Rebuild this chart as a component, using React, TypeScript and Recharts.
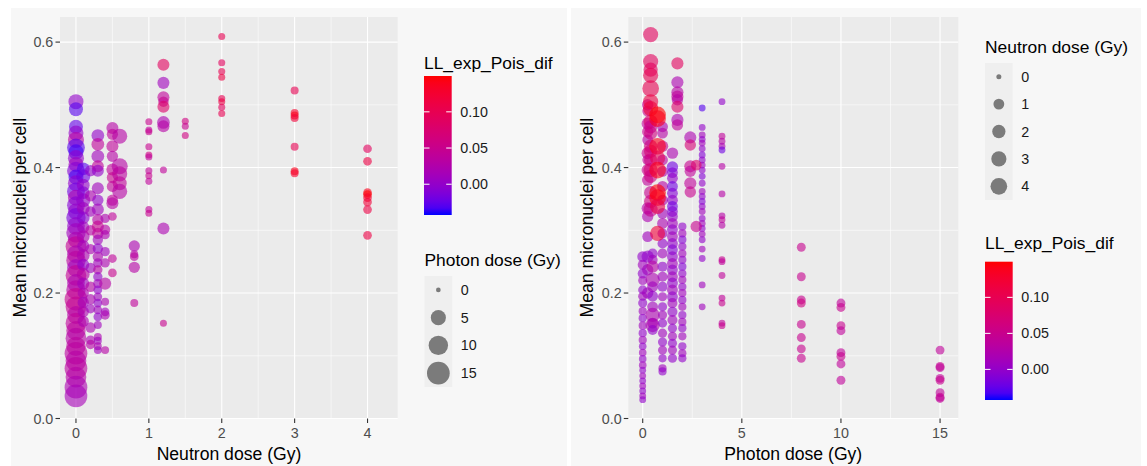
import { ScatterChart, Scatter, XAxis, YAxis, CartesianGrid } from 'recharts'

const FONT = '"Liberation Sans", Arial, Helvetica, sans-serif'

// colour scale LL_exp_Pois_dif (limits)
const llLimits = [-0.0425, 0.1495]
const llBreaks = [0, 0.05, 0.1]

// size legends
const photonBreaks = [0, 5, 10, 15]
const neutronBreaks = [0, 1, 2, 3, 4]

// axes
const meanTicks = [0, 0.2, 0.4, 0.6]
const meanMinor = [0.1, 0.3, 0.5]
const neutronTicks = [0, 1, 2, 3, 4]
const neutronMinor = [0.5, 1.5, 2.5, 3.5]
const photonTicks = [0, 5, 10, 15]
const photonMinor = [2.5, 7.5, 12.5]

// ---- left panel: x = neutron dose, size = photon dose
// rows: [mean micronuclei per cell, photon dose (Gy), LL_exp_Pois_dif]
const n0 = [
  [0.505, 5, 0.0], [0.493, 4, -0.03], [0.465, 4, -0.025], [0.455, 5, 0.0], [0.444, 6, 0.03],
  [0.432, 8, -0.03], [0.425, 5, -0.035], [0.415, 6, 0.0], [0.405, 5, 0.01], [0.395, 8, -0.01],
  [0.385, 5, -0.035], [0.375, 6, 0.0], [0.362, 8, -0.02], [0.352, 6, 0.02], [0.34, 8, -0.01],
  [0.33, 6, 0.0], [0.32, 10, -0.015], [0.307, 8, 0.0], [0.296, 10, 0.01], [0.285, 6, 0.02],
  [0.274, 12, 0.045], [0.262, 8, 0.02], [0.252, 10, 0.035], [0.24, 8, 0.01], [0.228, 12, 0.045],
  [0.216, 8, 0.02], [0.205, 10, 0.03], [0.19, 15, 0.05], [0.178, 12, 0.045], [0.165, 8, 0.03],
  [0.152, 12, 0.04], [0.14, 10, 0.035], [0.128, 12, 0.03], [0.115, 10, 0.035], [0.104, 15, 0.035],
  [0.092, 12, 0.03], [0.08, 15, 0.035], [0.066, 12, 0.03], [0.05, 15, 0.02], [0.036, 15, 0.015],
]
const n01 = [
  [0.398, 3, -0.03], [0.386, 4, -0.02], [0.372, 3, 0.0], [0.36, 3, -0.01], [0.348, 4, 0.0],
  [0.335, 3, 0.01], [0.32, 3, -0.005], [0.305, 2.5, 0.01], [0.29, 3, 0.02], [0.275, 2.5, 0.01],
  [0.26, 3, 0.02], [0.245, 2.5, 0.0], [0.23, 3, 0.03], [0.215, 2.5, 0.01], [0.2, 2, 0.02],
  [0.185, 2, 0.01], [0.17, 2, 0.02], [0.155, 2, 0.02],
]
const n02 = [
  [0.395, 2, 0.0], [0.355, 2, 0.02], [0.33, 1.5, 0.01], [0.3, 1.5, 0.03], [0.27, 1.5, 0.02],
  [0.24, 1.5, 0.01], [0.21, 1.5, 0.03], [0.19, 1.5, 0.02], [0.175, 1, 0.01], [0.145, 1.5, 0.02],
  [0.125, 1, 0.02], [0.118, 1, 0.03],
]
const n03 = [
  [0.451, 3, 0.0], [0.437, 3, 0.04], [0.418, 3, 0.01], [0.402, 2.5, 0.04], [0.395, 2.5, 0.0],
  [0.367, 2.5, 0.01], [0.348, 2, 0.0], [0.333, 2.5, 0.01], [0.317, 2, 0.03], [0.306, 2.5, 0.05],
  [0.295, 2, 0.04], [0.285, 1.5, 0.01], [0.271, 1.5, 0.0], [0.258, 1.5, 0.02], [0.248, 1, 0.01],
  [0.237, 1, 0.03], [0.226, 1, 0.0], [0.215, 1, 0.01], [0.205, 0.75, 0.0], [0.194, 0.75, 0.01],
  [0.184, 0.75, 0.0], [0.173, 0.75, 0.01], [0.162, 0.75, 0.0], [0.149, 0.5, 0.01], [0.13, 0.5, 0.02],
  [0.124, 0.5, 0.01], [0.115, 0.5, 0.02], [0.109, 0.5, 0.01],
]
const n04 = [
  [0.319, 1, 0.02], [0.301, 1.5, 0.03], [0.293, 1, 0.02], [0.266, 1, 0.01], [0.248, 1, 0.02],
  [0.215, 2.5, 0.03], [0.186, 0.5, 0.02], [0.17, 0.75, 0.01], [0.165, 1, 0.02], [0.109, 0.5, 0.03],
]
const n05 = [
  [0.463, 2.5, 0.03], [0.453, 2, 0.04], [0.434, 2.5, 0.04], [0.418, 2, 0.03], [0.397, 2.5, 0.04],
  [0.384, 2, 0.05], [0.37, 2, 0.04], [0.348, 2, 0.04], [0.343, 2.5, 0.03], [0.322, 0.75, 0.04],
  [0.255, 0.75, 0.04], [0.232, 0.75, 0.05],
]
const n06 = [[0.45, 5, 0.03], [0.402, 6, 0.03], [0.39, 5, 0.035], [0.375, 4, 0.04], [0.362, 5, 0.03]]
const n08 = [[0.275, 2, 0.02], [0.262, 0.5, 0.03], [0.258, 0.75, 0.035], [0.241, 2, 0.03], [0.184, 0.5, 0.04]]
const n1 = [
  [0.473, 0.25, 0.05], [0.46, 0.25, 0.04], [0.457, 0.25, 0.05], [0.433, 0.25, 0.05], [0.42, 0.25, 0.06],
  [0.417, 0.25, 0.04], [0.395, 0.25, 0.04], [0.387, 0.25, 0.05], [0.378, 0.25, 0.04], [0.333, 0.25, 0.04],
  [0.327, 0.25, 0.05],
]
const n12 = [
  [0.564, 2.5, 0.09], [0.535, 2.5, 0.01], [0.512, 2.5, 0.04], [0.505, 1.5, 0.05], [0.497, 2.5, 0.08],
  [0.472, 3, 0.02], [0.466, 2.5, 0.03], [0.396, 0.25, 0.04], [0.303, 2.5, 0.02], [0.152, 0.25, 0.05],
]
const n15 = [[0.474, 0.25, 0.06], [0.466, 0.25, 0.05], [0.451, 0.25, 0.06]]
const n2 = [
  [0.609, 0.25, 0.1], [0.567, 0.25, 0.09], [0.553, 0.25, 0.1], [0.544, 0.25, 0.11], [0.51, 0.25, 0.1],
  [0.505, 0.25, 0.11], [0.496, 0.25, 0.09], [0.486, 0.25, 0.1],
]
const n3 = [
  [0.523, 0.5, 0.1], [0.487, 0.5, 0.13], [0.483, 0.5, 0.14], [0.479, 0.5, 0.12], [0.433, 0.5, 0.1],
  [0.394, 0.5, 0.14], [0.391, 0.5, 0.13],
]
const n4 = [
  [0.43, 0.75, 0.09], [0.41, 0.75, 0.11], [0.36, 0.75, 0.14], [0.357, 0.75, 0.15], [0.352, 0.75, 0.13],
  [0.345, 0.75, 0.12], [0.333, 0.75, 0.11], [0.292, 0.75, 0.11],
]

// ---- right panel: x = photon dose, size = neutron dose
// rows: [mean micronuclei per cell, neutron dose (Gy), LL_exp_Pois_dif]
const p0 = [
  [0.258, 1, 0.0], [0.245, 0.75, 0.01], [0.231, 0.75, 0.0], [0.22, 0.5, 0.01], [0.205, 0.5, 0.0],
  [0.195, 0.5, 0.01], [0.184, 0.5, 0.0], [0.171, 0.3, 0.01], [0.16, 0.3, 0.0], [0.148, 0.3, 0.01],
  [0.136, 0.3, 0.0], [0.125, 0.3, 0.01], [0.115, 0.2, 0.0], [0.105, 0.2, 0.01], [0.095, 0.2, 0.0],
  [0.085, 0.2, 0.01], [0.077, 0.1, 0.0], [0.068, 0.1, 0.01], [0.06, 0.1, 0.0], [0.052, 0.1, 0.01],
  [0.044, 0.1, 0.0], [0.036, 0.1, 0.01], [0.03, 0.1, 0.0],
]
const p025 = [
  [0.5, 1.2, 0.04], [0.49, 1, 0.05], [0.47, 1.5, 0.04], [0.457, 1.2, 0.05], [0.444, 1, 0.03],
  [0.423, 1.5, 0.05], [0.412, 1, 0.04], [0.396, 1.5, 0.05], [0.38, 1.2, 0.04], [0.335, 1.5, 0.03],
  [0.322, 1.2, 0.02], [0.29, 1, 0.01], [0.258, 1.5, 0.0], [0.237, 1.2, 0.01], [0.2, 1.2, 0.01],
]
const p04 = [
  [0.612, 3, 0.09], [0.569, 3, 0.09], [0.556, 2.5, 0.09], [0.547, 3, 0.1], [0.526, 4, 0.1],
  [0.505, 3, 0.11], [0.494, 3, 0.12], [0.473, 2.5, 0.08], [0.465, 2, 0.05], [0.455, 2, 0.06],
  [0.434, 2, 0.06], [0.426, 2, 0.07], [0.412, 2, 0.06], [0.396, 2.5, 0.07], [0.386, 2, 0.06],
  [0.36, 2, 0.05], [0.346, 2, 0.06], [0.333, 2.5, 0.05],
]
const p05 = [
  [0.263, 0.75, 0.0], [0.253, 0.75, 0.01], [0.242, 1.5, 0.03], [0.221, 2.5, 0.02], [0.21, 1, 0.01],
  [0.195, 1, 0.0], [0.178, 1, 0.01], [0.165, 2.5, 0.02], [0.152, 1, 0.01], [0.149, 2.5, 0.02],
  [0.141, 0.75, 0.0],
]
const p075 = [
  [0.484, 4, 0.15], [0.478, 4, 0.14], [0.434, 4, 0.14], [0.415, 3, 0.1], [0.396, 4, 0.14],
  [0.36, 4, 0.15], [0.352, 4, 0.14], [0.338, 3, 0.11], [0.295, 3, 0.12],
]
const p1 = [
  [0.465, 1, 0.02], [0.455, 1, 0.03], [0.434, 1.2, 0.05], [0.412, 1, 0.03], [0.394, 1, 0.02],
  [0.37, 1, 0.03], [0.348, 1, 0.02], [0.327, 1, 0.01], [0.311, 1, 0.02], [0.295, 0.75, 0.01],
  [0.279, 0.75, 0.0], [0.263, 0.75, 0.01], [0.242, 0.75, 0.0], [0.226, 0.75, 0.01], [0.21, 0.75, 0.0],
  [0.194, 0.5, 0.01], [0.178, 0.5, 0.0], [0.165, 0.5, 0.01], [0.152, 0.5, 0.0], [0.136, 0.5, 0.01],
  [0.122, 0.5, 0.0], [0.109, 0.5, 0.01], [0.096, 0.3, 0.0], [0.08, 0.3, 0.01], [0.075, 0.3, 0.0],
]
const p15 = [
  [0.423, 1.2, 0.02], [0.401, 1.2, -0.02], [0.392, 1, -0.01], [0.383, 1, 0.0], [0.37, 1, -0.02],
  [0.359, 1, -0.01], [0.348, 1, 0.0], [0.338, 1, -0.02], [0.33, 1, -0.01], [0.322, 1, 0.0],
  [0.311, 1, 0.01], [0.301, 1, 0.0], [0.29, 1, 0.01], [0.279, 1, 0.0], [0.269, 1, -0.01],
  [0.258, 1, 0.0], [0.247, 1, 0.01], [0.237, 1, 0.0], [0.226, 1, 0.01], [0.216, 1, 0.0],
  [0.205, 1, 0.01], [0.194, 1, 0.0], [0.184, 0.75, 0.01], [0.17, 0.75, 0.0], [0.157, 0.75, 0.01],
  [0.144, 0.5, 0.0], [0.131, 0.5, 0.01], [0.12, 0.5, 0.0], [0.109, 0.5, 0.01], [0.096, 0.5, 0.0],
]
const p175 = [
  [0.566, 1.5, 0.09], [0.536, 1.5, 0.02], [0.52, 1.5, 0.03], [0.513, 1.5, 0.04], [0.508, 1.2, 0.03],
  [0.497, 1.5, 0.08], [0.476, 1.5, 0.02], [0.468, 1.2, 0.04],
]
const p2 = [
  [0.306, 0.3, 0.0], [0.295, 0.3, 0.01], [0.285, 0.3, -0.01], [0.274, 0.3, 0.0], [0.263, 0.3, 0.01],
  [0.253, 0.3, 0.0], [0.242, 0.3, -0.01], [0.231, 0.3, 0.0], [0.221, 0.3, 0.01], [0.21, 0.3, 0.0],
  [0.2, 0.3, 0.01], [0.189, 0.3, 0.0], [0.178, 0.3, 0.01], [0.165, 0.3, 0.0], [0.154, 0.3, 0.01],
  [0.144, 0.3, 0.0], [0.131, 0.3, 0.01], [0.115, 0.3, 0.0], [0.104, 0.3, 0.01], [0.096, 0.3, 0.0],
]
const p24 = [[0.448, 1.5, 0.02], [0.436, 1.2, 0.07], [0.402, 1.5, 0.05], [0.394, 1.2, 0.04], [0.375, 1.5, 0.04], [0.361, 1.2, 0.05]]
const p27 = [[0.404, 1, 0.08], [0.306, 1.2, 0.05]]
const p3 = [
  [0.495, 0.1, -0.03], [0.464, 0.1, 0.0], [0.452, 0.1, 0.01], [0.445, 0.1, 0.0], [0.439, 0.1, 0.01],
  [0.43, 0.1, 0.0], [0.42, 0.1, -0.01], [0.412, 0.1, 0.0], [0.404, 0.1, 0.01], [0.396, 0.1, 0.0],
  [0.386, 0.1, -0.01], [0.375, 0.1, 0.0], [0.362, 0.1, 0.01], [0.354, 0.1, 0.0], [0.346, 0.1, -0.01],
  [0.338, 0.1, 0.0], [0.33, 0.1, 0.01], [0.319, 0.1, 0.0], [0.311, 0.1, 0.01], [0.303, 0.1, 0.0],
  [0.294, 0.1, 0.01], [0.285, 0.1, 0.0], [0.27, 0.1, 0.01], [0.255, 0.1, 0.0], [0.213, 0.1, 0.01],
  [0.178, 0.1, 0.01],
]
const p4 = [
  [0.505, 0.1, 0.0], [0.45, 0.1, 0.04], [0.442, 0.1, 0.03], [0.434, 0.1, 0.02], [0.428, 0.1, -0.02],
  [0.402, 0.1, 0.03], [0.358, 0.1, 0.03], [0.323, 0.1, 0.03], [0.317, 0.1, 0.04], [0.308, 0.1, 0.03],
  [0.253, 0.1, 0.05], [0.25, 0.1, 0.04], [0.228, 0.1, 0.04], [0.192, 0.1, 0.04], [0.184, 0.1, 0.05],
  [0.152, 0.1, 0.04], [0.148, 0.1, 0.05],
]
const p8 = [[0.273, 0.45, 0.05], [0.226, 0.45, 0.05], [0.189, 0.45, 0.05], [0.184, 0.45, 0.06], [0.15, 0.45, 0.05], [0.129, 0.45, 0.05], [0.111, 0.45, 0.05], [0.096, 0.45, 0.05]]
const p10 = [[0.184, 0.45, 0.04], [0.177, 0.45, 0.05], [0.148, 0.45, 0.05], [0.14, 0.45, 0.04], [0.105, 0.45, 0.04], [0.099, 0.45, 0.05], [0.087, 0.45, 0.04], [0.061, 0.45, 0.04]]
const p15b = [[0.109, 0.45, 0.04], [0.083, 0.45, 0.05], [0.081, 0.45, 0.04], [0.064, 0.45, 0.04], [0.061, 0.45, 0.05], [0.041, 0.45, 0.04], [0.034, 0.45, 0.05], [0.032, 0.45, 0.04]]

const leftColumns: [number, number[][]][] = [
  [0, n0], [0.1, n01], [0.2, n02], [0.3, n03], [0.4, n04], [0.5, n05], [0.6, n06], [0.8, n08],
  [1, n1], [1.2, n12], [1.5, n15], [2, n2], [3, n3], [4, n4],
]
const rightColumns: [number, number[][]][] = [
  [0, p0], [0.25, p025], [0.5, p05], [1, p1], [1.5, p15], [2, p2], [3, p3], [4, p4],
  [8, p8], [10, p10], [15, p15b], [1.75, p175], [2.4, p24], [2.7, p27], [0.4, p04], [0.75, p075],
]

const toRows = (cols: [number, number[][]][]) =>
  cols.flatMap(([dose, rows]) => rows.map(([mean, size, ll]) => ({ x: dose, y: mean, size, ll })))
const leftData = toRows(leftColumns)
const rightData = toRows(rightColumns)

// ---- Lab interpolation blue -> red (like scale_colour_gradient)
const toLin = (c: number) => {
  const v = c / 255
  return v <= 0.04045 ? v / 12.92 : Math.pow((v + 0.055) / 1.055, 2.4)
}
const fromLin = (c: number) => {
  const v = c <= 0.0031308 ? 12.92 * c : 1.055 * Math.pow(Math.max(c, 0), 1 / 2.4) - 0.055
  return Math.round(Math.min(1, Math.max(0, v)) * 255)
}
function rgbToLab(r: number, g: number, b: number) {
  const R = toLin(r), G = toLin(g), B = toLin(b)
  const X = (0.4124 * R + 0.3576 * G + 0.1805 * B) / 0.95047
  const Y = 0.2126 * R + 0.7152 * G + 0.0722 * B
  const Z = (0.0193 * R + 0.1192 * G + 0.9505 * B) / 1.08883
  const f = (t: number) => (t > 0.008856 ? Math.cbrt(t) : 7.787 * t + 16 / 116)
  const fx = f(X), fy = f(Y), fz = f(Z)
  return [116 * fy - 16, 500 * (fx - fy), 200 * (fy - fz)]
}
function labToRgb(L: number, a: number, b: number) {
  const fy = (L + 16) / 116
  const fx = fy + a / 500
  const fz = fy - b / 200
  const inv = (t: number) => (t ** 3 > 0.008856 ? t ** 3 : (t - 16 / 116) / 7.787)
  const X = inv(fx) * 0.95047, Y = inv(fy), Z = inv(fz) * 1.08883
  const R = 3.2406 * X - 1.5372 * Y - 0.4986 * Z
  const G = -0.9689 * X + 1.8758 * Y + 0.0415 * Z
  const B = 0.0557 * X - 0.204 * Y + 1.057 * Z
  return `rgb(${fromLin(R)},${fromLin(G)},${fromLin(B)})`
}
const lowLab = rgbToLab(0, 0, 255)
const highLab = rgbToLab(255, 0, 0)
function llColour(v: number) {
  const t = Math.min(1, Math.max(0, (v - llLimits[0]) / (llLimits[1] - llLimits[0])))
  return labToRgb(
    lowLab[0] + (highLab[0] - lowLab[0]) * t,
    lowLab[1] + (highLab[1] - lowLab[1]) * t,
    lowLab[2] + (highLab[2] - lowLab[2]) * t
  )
}

// area scaled sizes (diameter in px)
const photonDiam = (v: number) => 4.7 + 18 * Math.sqrt(v / 15)
const neutronDiam = (v: number) => 5 + 11.7 * Math.sqrt(v / 4)

const dotShape = (diam: (v: number) => number) => (props: any) => {
  const { cx, cy, payload } = props
  return <circle cx={cx} cy={cy} r={diam(payload.size) / 2} fill={llColour(payload.ll)} fillOpacity={0.6} />
}

const tickStyle = { fill: '#4D4D4D', fontSize: 14.3, fontFamily: FONT }
const tickLine = { stroke: '#333333', strokeWidth: 1.1 }

function DosePanel({ data, width, xDomain, xTicks, xMinor, yWidth, right, diam }: any) {
  return (
    <ScatterChart width={width} height={458} margin={{ top: 9, right, bottom: 17.5, left: 0 }}>
      <CartesianGrid fill="#EBEBEB" fillOpacity={1} stroke="#FFFFFF" strokeWidth={0.55} horizontalValues={meanMinor} verticalValues={xMinor} />
      <CartesianGrid stroke="#FFFFFF" strokeWidth={1.1} horizontalValues={meanTicks} verticalValues={xTicks} />
      <XAxis
        type="number"
        dataKey="x"
        domain={xDomain}
        ticks={xTicks}
        interval={0}
        allowDataOverflow
        axisLine={false}
        tickSize={4.5}
        tickMargin={5.3}
        tickLine={tickLine}
        tick={tickStyle}
        height={30}
      />
      <YAxis
        type="number"
        dataKey="y"
        domain={[0, 0.64]}
        ticks={meanTicks}
        interval={0}
        allowDataOverflow
        axisLine={false}
        tickSize={4.5}
        tickMargin={2.2}
        tickLine={tickLine}
        tick={tickStyle}
        tickFormatter={(v: number) => v.toFixed(1)}
        width={yWidth}
      />
      <Scatter data={data} isAnimationActive={false} shape={dotShape(diam)} />
    </ScatterChart>
  )
}

function ColourBar({ x, y, h, titleY }: any) {
  const w = 27.7
  const pos = (v: number) => y + h - ((v - llLimits[0]) / (llLimits[1] - llLimits[0])) * h
  return (
    <g>
      <text x={x} y={titleY} fontSize={17.4} fill="#000">LL_exp_Pois_dif</text>
      <rect x={x} y={y} width={w} height={h} fill="url(#llGrad)" />
      {llBreaks.map((b) => (
        <g key={b}>
          <line x1={x} x2={x + 5.5} y1={pos(b)} y2={pos(b)} stroke="#fff" strokeWidth={1} />
          <line x1={x + w - 5.5} x2={x + w} y1={pos(b)} y2={pos(b)} stroke="#fff" strokeWidth={1} />
          <text x={x + w + 8.5} y={pos(b) + 5.1} fontSize={14.3} fill="#1a1a1a">{b.toFixed(2)}</text>
        </g>
      ))}
    </g>
  )
}

function SizeLegend({ title, breaks, diam, x, y, step, titleY }: any) {
  const w = 27.7
  return (
    <g>
      <text x={x} y={titleY} fontSize={17.4} fill="#000">{title}</text>
      <rect x={x} y={y} width={w} height={step * breaks.length} fill="#EFEFEF" />
      {breaks.map((b: number, i: number) => (
        <g key={b}>
          <circle cx={x + w / 2} cy={y + step * (i + 0.5)} r={diam(b) / 2} fill="#7b7b7b" />
          <text x={x + w + 8.5} y={y + step * (i + 0.5) + 5.1} fontSize={14.3} fill="#1a1a1a">{b}</text>
        </g>
      ))}
    </g>
  )
}

const gradStops = Array.from({ length: 21 }, (_, i) => i / 20)

export default function App() {
  return (
    <div style={{ position: 'absolute', left: 0, top: 0, width: 1147, height: 466, background: '#fff', fontFamily: FONT }}>
      <div style={{ position: 'absolute', left: 11, top: 8, width: 556, height: 458, background: '#F7F7F7' }}>
        <DosePanel data={leftData} width={556} xDomain={[-0.219, 4.414]} xTicks={neutronTicks} xMinor={neutronMinor} yWidth={49} right={169.3} diam={photonDiam} />
      </div>
      <div style={{ position: 'absolute', left: 571, top: 8, width: 570, height: 458, background: '#F7F7F7' }}>
        <DosePanel data={rightData} width={570} xDomain={[-0.727, 15.92]} xTicks={photonTicks} xMinor={photonMinor} yWidth={57.3} right={182.7} diam={neutronDiam} />
      </div>
      <svg width={1147} height={466} style={{ position: 'absolute', left: 0, top: 0, pointerEvents: 'none', fontFamily: FONT }}>
        <defs>
          <linearGradient id="llGrad" x1="0" y1="1" x2="0" y2="0">
            {gradStops.map((t) => (
              <stop key={t} offset={t} stopColor={llColour(llLimits[0] + t * (llLimits[1] - llLimits[0]))} />
            ))}
          </linearGradient>
        </defs>
        {/* axis titles */}
        <text x={229} y={460} textAnchor="middle" fontSize={17.6} fill="#000">Neutron dose (Gy)</text>
        <text x={793.3} y={460} textAnchor="middle" fontSize={17.6} fill="#000">Photon dose (Gy)</text>
        <text transform="translate(25.5,217.7) rotate(-90)" textAnchor="middle" fontSize={17.6} fill="#000">Mean micronuclei per cell</text>
        <text transform="translate(593,217.7) rotate(-90)" textAnchor="middle" fontSize={17.6} fill="#000">Mean micronuclei per cell</text>
        {/* legends */}
        <ColourBar x={424} y={76} h={139} titleY={69.2} />
        <SizeLegend title="Photon dose (Gy)" breaks={photonBreaks} diam={photonDiam} x={424.5} y={276} step={27.75} titleY={266.3} />
        <SizeLegend title="Neutron dose (Gy)" breaks={neutronBreaks} diam={neutronDiam} x={985} y={63} step={27.4} titleY={53} />
        <ColourBar x={985} y={261.7} h={138.3} titleY={249.3} />
      </svg>
    </div>
  )
}
